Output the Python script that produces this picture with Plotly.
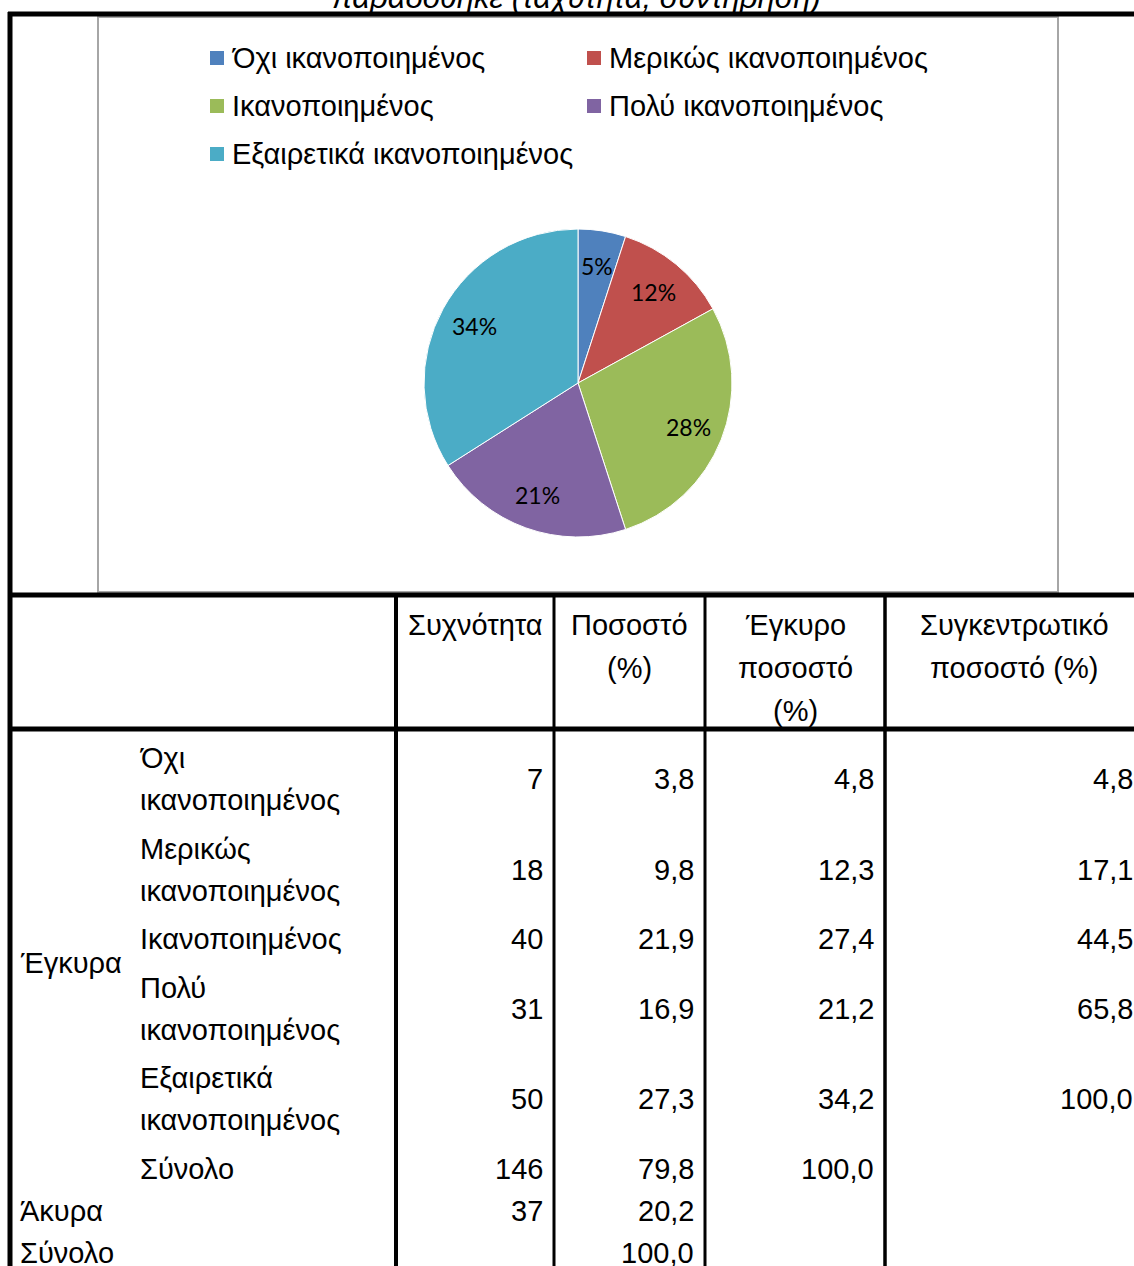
import math
import plotly.graph_objects as go

# Page size in pixels
W, H = 1134, 1266

# Satisfaction categories and the pie's percentage labels
categories = ["Όχι ικανοποιημένος", "Μερικώς ικανοποιημένος", "Ικανοποιημένος",
              "Πολύ ικανοποιημένος", "Εξαιρετικά ικανοποιημένος"]
pie_percent = [5, 12, 28, 21, 34]
slice_colors = ["#4F81BD", "#C0504D", "#9BBB59", "#8064A2", "#4BACC6"]

# Frequency table
frequency = [7, 18, 40, 31, 50]
percent = [3.8, 9.8, 21.9, 16.9, 27.3]
valid_percent = [4.8, 12.3, 27.4, 21.2, 34.2]
cumulative_percent = [4.8, 17.1, 44.5, 65.8, 100.0]
valid_total_freq = 146
valid_total_pct = 79.8
valid_total_valid_pct = 100.0
invalid_freq = 37
invalid_pct = 20.2
grand_total_pct = 100.0

column_headers = [["Συχνότητα"], ["Ποσοστό", "(%)"],
                  ["Έγκυρο", "ποσοστό", "(%)"], ["Συγκεντρωτικό", "ποσοστό (%)"]]
group_valid = "Έγκυρα"
group_invalid = "Άκυρα"
total_label = "Σύνολο"
caption = "παραδόθηκε (ταχύτητα, συντήρηση)"

FONT = "Liberation Sans, Arial, sans-serif"
TXT = 29


def px(x):
    return x / W


def py(y):
    return 1 - y / H


def fmt(v):
    return f"{v:.1f}".replace(".", ",")


shapes = []
annotations = []


def line(x0, y0, x1, y1, width, color="black"):
    shapes.append(dict(type="line", xref="paper", yref="paper",
                       x0=px(x0), y0=py(y0), x1=px(x1), y1=py(y1),
                       line=dict(color=color, width=width)))


def text(x, y, s, anchor="left", size=TXT, family=FONT):
    annotations.append(dict(xref="paper", yref="paper", x=px(x), y=py(y),
                            text=s, showarrow=False, xanchor=anchor,
                            yanchor="middle",
                            font=dict(family=family, size=size, color="black")))


# Caption running off the top edge
text(576, -2, f"<i>{caption}</i>", anchor="center", size=31)

# Chart frame
shapes.append(dict(type="rect", xref="paper", yref="paper",
                   x0=px(98), y0=py(592), x1=px(1058), y1=py(17),
                   line=dict(color="#A6A6A6", width=2), fillcolor="white",
                   layer="below"))

# Outer table rules
line(8, 14, W + 2, 14, 5)
line(8, 595, W + 2, 595, 5)
line(8, 729, W + 2, 729, 5)
line(10, 12, 10, H + 2, 5)
for xc, wd in [(396, 4), (554, 3), (705, 3), (885, 3.5)]:
    line(xc, 597, xc, H + 2, wd)

# Legend
leg_cols = [210, 587]
leg_rows = [58, 106, 154]
for i, (name, col) in enumerate(zip(categories, slice_colors)):
    lx = leg_cols[i % 2]
    ly = leg_rows[i // 2]
    shapes.append(dict(type="rect", xref="paper", yref="paper",
                       x0=px(lx), x1=px(lx + 14), y0=py(ly + 7), y1=py(ly - 7),
                       line=dict(width=0), fillcolor=col))
    text(lx + 20, ly, name)

# Column headers
col_bounds = [(397, 554), (554, 705), (705, 885), (885, 1143)]
for (a, b), lines_ in zip(col_bounds, column_headers):
    for j, s in enumerate(lines_):
        text((a + b) / 2, 625 + 43 * j, s, anchor="center")

# Body rows
row_centers = [779, 870, 939, 1009, 1099]
num_right = [545, 696, 876, 1135]
for cat, yc, f, p, vp, cp in zip(categories, row_centers, frequency, percent,
                                 valid_percent, cumulative_percent):
    parts = cat.split(" ")
    if len(parts) == 1:
        text(138, yc, parts[0])
    else:
        text(138, yc - 21, parts[0])
        text(138, yc + 21, " ".join(parts[1:]))
    text(num_right[0], yc, str(f), anchor="right")
    text(num_right[1], yc, fmt(p), anchor="right")
    text(num_right[2], yc, fmt(vp), anchor="right")
    text(num_right[3], yc, fmt(cp), anchor="right")

text(18, 963, group_valid)
text(138, 1169, total_label)
text(num_right[0], 1169, str(valid_total_freq), anchor="right")
text(num_right[1], 1169, fmt(valid_total_pct), anchor="right")
text(num_right[2], 1169, fmt(valid_total_valid_pct), anchor="right")
text(18, 1211, group_invalid)
text(num_right[0], 1211, str(invalid_freq), anchor="right")
text(num_right[1], 1211, fmt(invalid_pct), anchor="right")
text(18, 1253, total_label)
text(num_right[1], 1253, fmt(grand_total_pct), anchor="right")

# Pie geometry (pixels)
PIE_CX, PIE_CY, PIE_R = 578, 383, 154

pie = go.Pie(
    values=pie_percent,
    labels=categories,
    sort=False,
    direction="clockwise",
    rotation=0,
    marker=dict(colors=slice_colors, line=dict(color="white", width=1)),
    textinfo="none",
    domain=dict(x=[px(PIE_CX - PIE_R), px(PIE_CX + PIE_R)],
                y=[py(PIE_CY + PIE_R), py(PIE_CY - PIE_R)]),
    showlegend=False,
    hoverinfo="label+percent",
)

# Percentage labels placed along each slice's mid-angle
total = sum(pie_percent)
start = 0.0
for v in pie_percent:
    mid = (start + v / 2) / total * 2 * math.pi
    start += v
    d = 0.77 * PIE_R
    lx = PIE_CX + d * math.sin(mid)
    ly = PIE_CY - d * math.cos(mid)
    text(lx, ly, f"{round(v / total * 100)}%", anchor="center", size=23,
         family="Lato, Carlito, sans-serif")

fig = go.Figure(pie)
fig.update_layout(
    width=W, height=H,
    margin=dict(l=0, r=0, t=0, b=0),
    paper_bgcolor="white",
    plot_bgcolor="white",
    shapes=shapes,
    annotations=annotations,
    showlegend=False,
)
fig.write_html("out.html", config={"displayModeBar": False})
